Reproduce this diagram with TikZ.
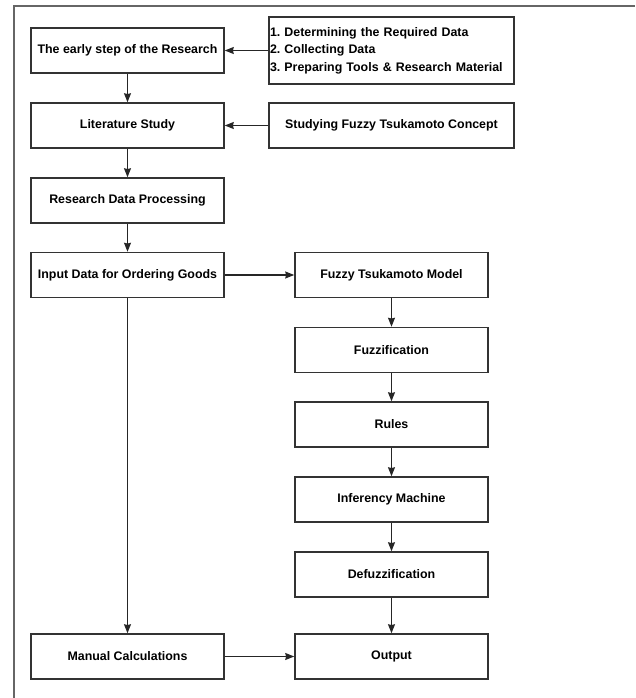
\documentclass[tikz,border=0pt]{standalone}
\usepackage{fontspec}
\setmainfont{Liberation Sans}
\usetikzlibrary{arrows.meta}

\begin{document}
\frenchspacing
\begin{tikzpicture}[x=1pt,y=-1pt,
    box/.style={draw=black!80,line width=1.5pt,minimum width=193pt,minimum height=45pt,inner sep=0pt,
      font=\fontsize{12.4}{14}\selectfont\bfseries},
    widebox/.style={box,minimum width=245pt},
    flow/.style={line width=1.2pt,black!85,-{Stealth[length=9pt,width=7pt,inset=0.8pt]}}]
        \useasboundingbox (0,0) rectangle (635,698);
        % page frame
        \draw[line width=1.5pt,black!60] (14,698) -- (14,6) -- (635,6);

        % left column
        \node[box] (early) at (127.5,50.5) {The early step of the Research};
        \node[box] (lit)   at (127.5,125.5) {Literature Study};
        \node[box] (proc)  at (127.5,200.5) {Research Data Processing};
        \node[box] (input) at (127.5,275) {Input Data for Ordering Goods};
        \node[box] (manual) at (127.5,656.5) {Manual Calculations};

        % right column
        \node[widebox,minimum height=67pt,text width=243pt,inner sep=1pt,align=left,
          font=\fontsize{12.4}{17.5}\selectfont\bfseries] (steps) at (391.5,50.5)
          {1. Determining the Required Data\\2. Collecting Data\\3. Preparing Tools \& Research Material};
        \node[widebox] (concept) at (391.5,125.5) {Studying Fuzzy Tsukamoto Concept};
        \node[box] (model) at (391.5,275) {Fuzzy Tsukamoto Model};
        \node[box] (fuzz)  at (391.5,350) {Fuzzification};
        \node[box] (rules) at (391.5,424.5) {Rules};
        \node[box] (infer) at (391.5,499.5) {Inferency Machine};
        \node[box] (defuzz) at (391.5,574.5) {Defuzzification};
        \node[box] (out)   at (391.5,656.5) {Output};

        % connectors
        \draw[flow] (steps) -- (early);
        \draw[flow] (concept) -- (lit);
        \draw[flow] (early) -- (lit);
        \draw[flow] (lit) -- (proc);
        \draw[flow] (proc) -- (input);
        \draw[flow] (input) -- (model);
        \draw[flow] (input) -- (manual);
        \draw[flow] (model) -- (fuzz);
        \draw[flow] (fuzz) -- (rules);
        \draw[flow] (rules) -- (infer);
        \draw[flow] (infer) -- (defuzz);
        \draw[flow] (defuzz) -- (out);
        \draw[flow] (manual) -- (out);
\end{tikzpicture}
\end{document}
